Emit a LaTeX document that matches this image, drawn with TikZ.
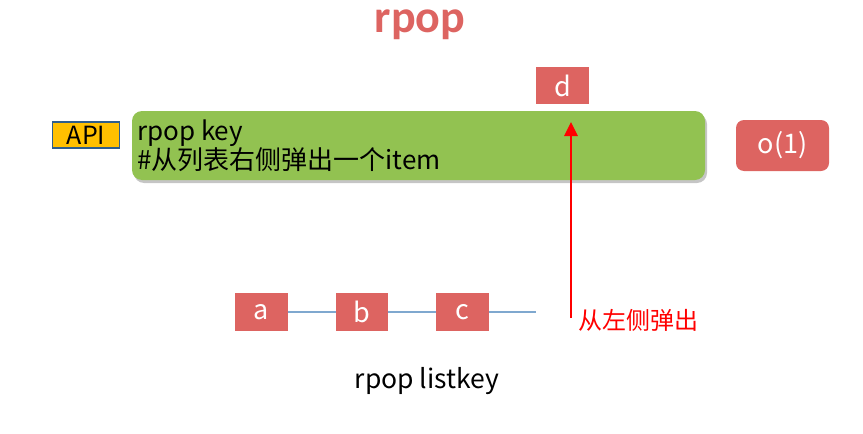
\documentclass[tikz,border=0pt]{standalone}
\usepackage{fontspec}
\setmainfont{Noto Sans CJK SC}
\newfontfamily\titlefont{Carlito}
\usetikzlibrary{arrows.meta,shadows}
\definecolor{redbox}{HTML}{DD6461}
\definecolor{greenbox}{HTML}{92C251}
\definecolor{apifill}{HTML}{FFC000}
\definecolor{apiedge}{HTML}{2E5E8C}
\definecolor{linkblue}{HTML}{7FA8CF}
\begin{document}
\begin{tikzpicture}[x=1pt,y=-1pt,
  elem/.style={fill=redbox,text=white,inner sep=0pt,font=\fontsize{27}{27}\selectfont},
  link/.style={draw=linkblue,line width=1.2pt}]
\useasboundingbox (0,0) rectangle (863,434);
\node[font=\titlefont\bfseries\fontsize{46}{46}\selectfont,text=redbox,inner sep=0pt] (title) at (420,25) {rpop};
\node[fill=apifill,draw=apiedge,line width=1.8pt,minimum width=67,minimum height=26,inner sep=0pt,font=\fontsize{25}{25}\selectfont] (api) at (86,135) {API};
\node[fill=greenbox,rounded corners=10,minimum width=573,minimum height=69,inner sep=0pt,drop shadow={shadow xshift=2pt,shadow yshift=-3pt,fill=black!45,opacity=0.5}] (cmd) at (418.5,145.5) {};
\node[anchor=west,align=left,inner sep=0pt,font=\fontsize{26}{29}\selectfont] (cmdtext) at (137,145.5) {rpop key\\\#从列表右侧弹出一个item};
\node[elem,minimum width=53,minimum height=37] (d) at (562.5,85.5) {d};
\node[elem,rounded corners=8,minimum width=93,minimum height=51] (o1) at (782.5,145.5) {o(1)};
\node[elem,minimum width=53,minimum height=38] (a) at (261.5,312) {a};
\node[elem,minimum width=52,minimum height=38] (b) at (362,312) {b};
\node[elem,minimum width=53,minimum height=38] (c) at (462.5,312) {c};
\coordinate (tail) at (536,312);
\draw[link] (a.east) -- (b.west);
\draw[link] (b.east) -- (c.west);
\draw[link] (c.east) -- (tail);
\coordinate (arrowfoot) at (571,318);
\coordinate (arrowtip) at (571,122);
\draw[red,line width=2.6pt,-{Triangle[width=13pt,length=14pt]}] (arrowfoot) -- (arrowtip);
\node[anchor=west,text=red,inner sep=0pt,font=\fontsize{24}{24}\selectfont] (leftpop) at (578,320) {从左侧弹出};
\node[font=\fontsize{26.5}{26.5}\selectfont] (caption) at (427,381) {rpop listkey};
\end{tikzpicture}
\end{document}
